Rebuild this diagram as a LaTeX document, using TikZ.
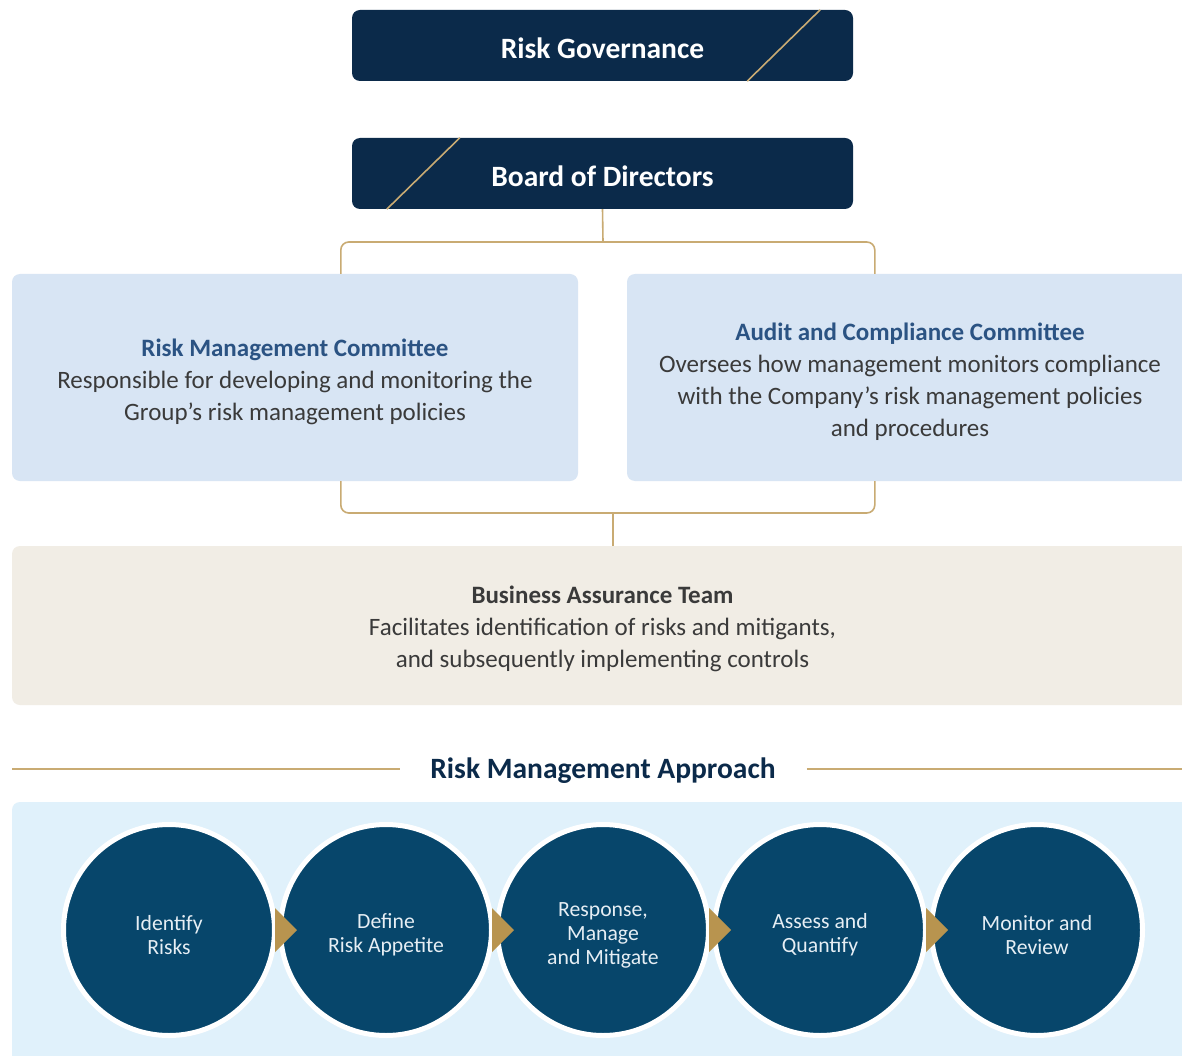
\documentclass[tikz,border=0pt]{standalone}
\usepackage{fontspec}
\setmainfont{Carlito}
\usetikzlibrary{calc}
\definecolor{navy}{HTML}{0B2A4A}
\definecolor{circ}{HTML}{07466B}
\definecolor{goldl}{HTML}{C9AB73}
\definecolor{golda}{HTML}{B8944F}
\definecolor{bluebox}{HTML}{D8E5F4}
\definecolor{beige}{HTML}{F1EDE5}
\definecolor{panel}{HTML}{E0F1FB}
\definecolor{headblue}{HTML}{2B5383}
\definecolor{bodytxt}{HTML}{3A3A3A}
\definecolor{circtxt}{HTML}{E6EEF4}
\tikzset{
  darkbox/.style={fill=navy, rounded corners=8, minimum width=501, minimum height=71, inner sep=0},
  headtxt/.style={text=white, font=\fontsize{29.5}{32}\selectfont\bfseries, inner sep=0},
  diag/.style={draw=goldl, line width=1.6},
  goldline/.style={draw=goldl, line width=1.6},
  infobox/.style={rounded corners=8, minimum width=566, minimum height=207, inner sep=0},
  infotxt/.style={align=center, text=bodytxt, font=\fontsize{25}{32}\selectfont, inner sep=0},
  stepcirc/.style={circle, fill=circ, draw=white, line width=5, minimum size=211, inner sep=0},
  steptxt/.style={text=circtxt, align=center, font=\fontsize{21.7}{24}\selectfont, inner sep=0},
  tri/.style={fill=golda},
}
\begin{document}
\begin{tikzpicture}[x=1pt,y=-1pt]
\clip (0,0) rectangle (1182,1056);
\fill[white] (0,0) rectangle (1182,1056);

% top boxes
\node[darkbox] (gov) at (602.5,45.5) {};
\node[headtxt] (govt) at ($(gov.center)+(0,3)$) {Risk Governance};
\draw[diag] ($(gov.north east)+(-33,0)$) -- ($(gov.south east)+(-106,0)$);
\node[darkbox] (bod) at (602.5,173.5) {};
\node[headtxt] (bodt) at ($(bod.center)+(0,3)$) {Board of Directors};
\draw[diag] ($(bod.north west)+(108,0)$) -- ($(bod.south west)+(35,0)$);

% committees
\node[infobox, fill=bluebox] (rmc) at (295,377.5) {};
\node[infotxt] (rmct) at ($(rmc.center)+(0,4)$)
  {{\color{headblue}\bfseries Risk Management Committee}\\
   Responsible for developing and monitoring the\\
   Group’s risk management policies};
\node[infobox, fill=bluebox] (acc) at (910,377.5) {};
\node[infotxt] (acct) at ($(acc.center)+(0,4)$)
  {{\color{headblue}\bfseries Audit and Compliance Committee}\\
   Oversees how management monitors compliance\\
   with the Company’s risk management policies\\
   and procedures};

% business assurance
\node[rounded corners=8, fill=beige, minimum width=1181, minimum height=159, inner sep=0] (bat) at (602.5,625.5) {};
\node[infotxt] (batt) at ($(bat.center)+(0,3)$)
  {{\bfseries Business Assurance Team}\\
   Facilitates identification of risks and mitigants,\\
   and subsequently implementing controls};

% connectors
\coordinate (jt) at (603,242);
\coordinate (tl) at ($(rmc.north west)+(329,0)$);
\coordinate (tr) at ($(acc.north west)+(248,0)$);
\draw[goldline] (bod.south) -- (jt);
\draw[goldline, rounded corners=8] (tl) |- (jt) -| (tr);
\coordinate (bl) at ($(rmc.south west)+(329,0)$);
\coordinate (br) at ($(acc.south west)+(248,0)$);
\coordinate (jb) at (613,513);
\draw[goldline, rounded corners=8] (bl) |- (jb) -| (br);
\draw[goldline] (jb) -- (jb |- bat.north);

% approach title
\node[text=navy, font=\fontsize{29.5}{32}\selectfont\bfseries, inner sep=0] (rma) at (603,771) {Risk Management Approach};
\coordinate (la) at (12,769);
\coordinate (ra) at (1182,769);
\draw[draw=goldl, line width=1.2] (la) -- (la -| {$(rma.west)+(-30,0)$});
\draw[draw=goldl, line width=1.2] (ra -| {$(rma.east)+(31,0)$}) -- (ra);

% panel
\node[rounded corners=8, fill=panel, minimum width=1181, minimum height=264, inner sep=0] (pan) at (602.5,934) {};

% circles
\foreach \n/\x/\t in {c1/169/{Identify\\Risks}, c2/386/{Define\\Risk Appetite}, c3/603/{Response,\\Manage\\and Mitigate}, c4/820/{Assess and\\Quantify}, c5/1037/{Monitor and\\Review}}{
  \node[stepcirc] (\n) at (\x,930) {};
  \node[steptxt] (\n t) at ($(\n.center)+(0,5)$) {\t};
}

\foreach \a in {c1,c2,c3,c4}{
  \fill[tri] ($(\a.east)+(-2,-22)$) -- ($(\a.east)+(20,0)$) -- ($(\a.east)+(-2,22)$) -- cycle;
}
\end{tikzpicture}
\end{document}
